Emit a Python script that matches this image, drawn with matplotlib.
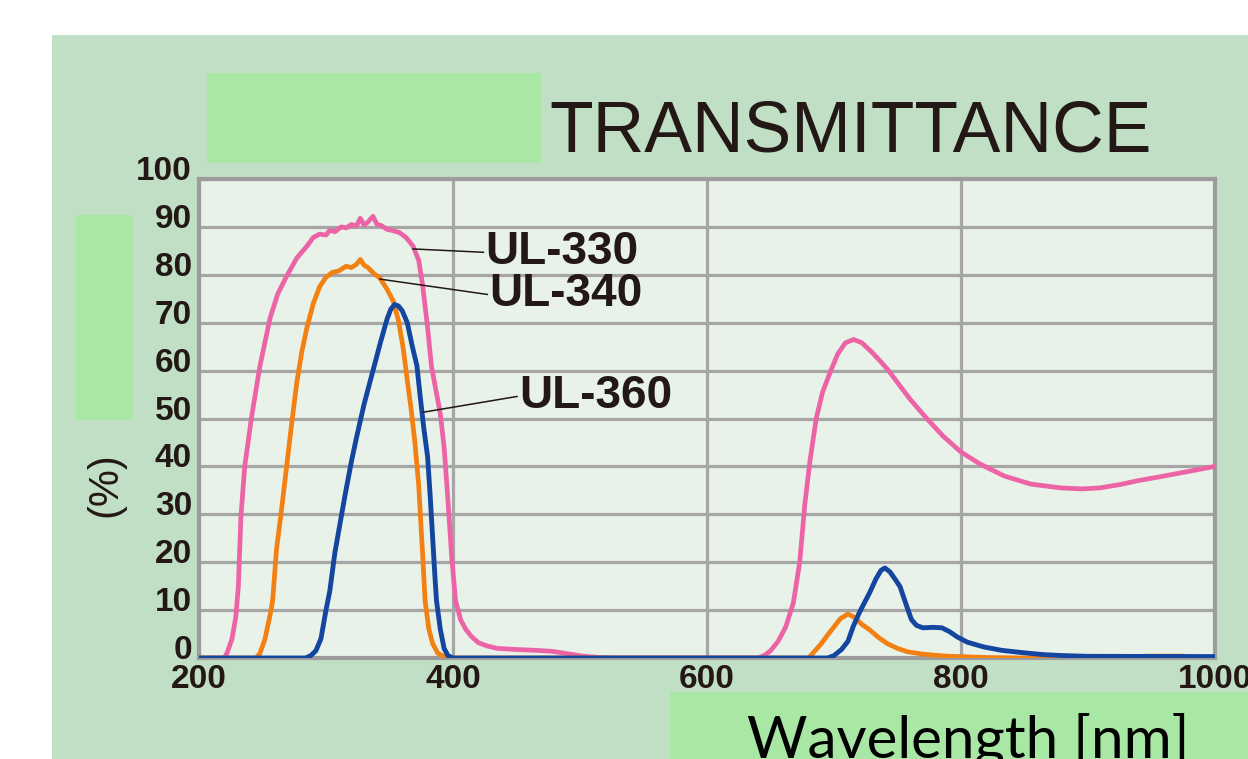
import matplotlib
matplotlib.use("Agg")
import matplotlib.pyplot as plt
from matplotlib.patches import Rectangle
from matplotlib.transforms import ScaledTranslation

# ---------------- data ----------------
ul330_wl = [200, 220, 222, 226, 229, 231, 233, 236, 241.5, 248, 256, 262, 269, 277, 285, 290,
            295, 300, 303, 307, 312, 316, 320, 324, 327, 330, 333, 337, 340, 344, 348, 353,
            358, 363, 368.5, 373, 376, 380, 383, 386, 390, 393, 396, 399, 402, 406, 410,
            414.5, 420, 427, 435, 448, 465, 478, 490, 502, 515, 530, 640, 645, 650, 656,
            662, 668, 673, 677, 681, 686, 691, 697.5, 703, 709, 715.5, 722, 730, 737, 743,
            750, 760, 773, 786, 800, 815, 834, 855, 879, 895, 909, 925, 939, 960, 980, 1000]
ul330_t = [0, 0, 1, 4, 8.6, 15, 29.5, 40, 50.5, 61, 71, 76, 79.7, 83.5, 86, 87.8,
           88.5, 88.3, 89.3, 89.0, 90.0, 89.8, 90.5, 90.2, 91.8, 90.4, 91.0, 92.2, 90.6, 90.2, 89.5, 89.2,
           88.8, 87.8, 86, 83, 78, 69, 61, 56.7, 51, 44, 33, 21, 12, 8, 6,
           4.5, 3.2, 2.5, 2.0, 1.8, 1.6, 1.4, 0.9, 0.4, 0.1, 0, 0, 0.5, 1.5, 3.5,
           6.5, 11.5, 20, 32, 41, 50, 55.5, 60, 63.5, 65.8, 66.5, 65.8, 63.8, 61.8, 60,
           57.5, 54, 50, 46.3, 43, 40.5, 38, 36.3, 35.5, 35.3, 35.5, 36.2, 37, 38, 39, 40]

ul340_wl = [200, 245, 248, 252, 256, 258, 261, 265, 269, 273, 277, 281, 285, 290, 295, 300,
            305, 310, 316, 320, 324, 327, 330, 333, 338, 342.5, 348, 353, 357, 360.6, 364,
            367, 370, 373, 376, 378, 381, 384, 388, 393, 396, 680, 685, 690, 695, 700, 705,
            711, 716, 722, 728, 735, 742, 750, 758, 770, 788, 820, 850, 940, 945, 975, 980, 1000]
ul340_t = [0, 0, 1, 4, 9, 12, 22.6, 31, 40, 49, 57.5, 64, 69, 74, 77.5, 79.5,
           80.5, 80.8, 81.8, 81.5, 82.2, 83.2, 82.0, 81.5, 80.2, 79.3, 77, 74.5, 70.5, 65, 58,
           52, 45, 36, 22, 12, 6, 3, 1, 0.3, 0, 0, 1.5, 3, 4.8, 6.5, 8.2,
           9.2, 8.5, 7, 5.9, 4.3, 3, 2, 1.3, 0.8, 0.4, 0.1, 0, 0, 0.4, 0.4, 0, 0]

ul360_wl = [200, 284, 288, 292, 296, 300, 303, 307, 311, 315, 320, 324, 330, 337, 343, 348,
            351, 354, 357, 360, 364, 368, 371.6, 374, 377, 380, 382, 384, 386, 387, 390, 393,
            396, 400, 695, 700, 706, 711, 715, 720, 728, 733, 737, 740, 744, 748, 752, 757,
            761, 765, 770, 778, 785, 791, 797, 805, 818, 832, 849, 865, 880, 900, 1000]
ul360_t = [0, 0, 0.5, 1.5, 4, 10, 14, 22, 28, 34, 41, 46, 53, 60, 66, 70.7,
           72.8, 73.8, 73.5, 72.5, 70, 65, 61, 55, 48, 42, 34, 25, 16, 12, 6, 2,
           0.5, 0, 0, 0.5, 1.8, 3.5, 6.5, 9.5, 13.6, 16.5, 18.3, 18.8, 18, 16.5, 14.9, 11,
           8, 6.8, 6.3, 6.4, 6.3, 5.5, 4.4, 3.3, 2.3, 1.6, 1.1, 0.7, 0.5, 0.35, 0.3]

x_ticks = [200, 400, 600, 800, 1000]
y_ticks = [0, 10, 20, 30, 40, 50, 60, 70, 80, 90, 100]
series_names = ["UL-330", "UL-340", "UL-360"]
title_text = "TRANSMITTANCE"
y_label = "(%)"
x_label = "Wavelength [nm]"

# ---------------- styling ----------------
INK = "#231815"
PINK = "#ec64a6"
ORANGE = "#f28012"
BLUE = "#1446a0"
GRID = "#a6a6a6"
BG_GREEN = "#c0dfc4"
PATCH = "#a8e8a4"
FACE = "#e8f2e8"

fig = plt.figure(figsize=(12.48, 7.59), dpi=100, facecolor="white")
W, H = 1248.0, 759.0

def frect(x0, y0, x1, y1, color, z):
    r = Rectangle((x0 / W, 1 - y1 / H), (x1 - x0) / W, (y1 - y0) / H,
                  transform=fig.transFigure, facecolor=color, edgecolor="none", zorder=z)
    fig.add_artist(r)

frect(52, 35, 1260, 770, BG_GREEN, -10)

ax = fig.add_axes([199 / W, 1 - 658 / H, (1215 - 199) / W, (658 - 179) / H])
ax.set_facecolor(FACE)
ax.set_xlim(200, 1000)
ax.set_ylim(0, 100)
ax.set_xticks(x_ticks)
ax.set_yticks(y_ticks)
ax.tick_params(length=0, labelsize=24, labelcolor=INK)
ax.tick_params(axis="y", pad=5)
ax.tick_params(axis="x", pad=4.5)
for lab in ax.get_xticklabels() + ax.get_yticklabels():
    lab.set_fontfamily("Liberation Sans")
    lab.set_fontweight("bold")
shift_up = ScaledTranslation(0, 11 / 100, fig.dpi_scale_trans)
for lab in ax.get_yticklabels():
    lab.set_transform(lab.get_transform() + shift_up)
ax.grid(True, color=GRID, linewidth=2.3, zorder=0)
ax.set_axisbelow(True)
for s in ax.spines.values():
    s.set_color("#9c9c9c")
    s.set_linewidth(3)

ax.plot(ul330_wl, ul330_t, color=PINK, lw=3.4, zorder=3, solid_joinstyle="round")
ax.plot(ul340_wl, ul340_t, color=ORANGE, lw=3.4, zorder=4, solid_joinstyle="round")
ax.plot(ul360_wl, ul360_t, color=BLUE, lw=3.5, zorder=5, solid_joinstyle="round")

# leader lines and labels
labels_pos = [((368.5, 85.4), (424, 84.7)),
              ((342.5, 79.1), (427, 75.9)),
              ((376.4, 51.3), (450.4, 54.6))]
for name, (p0, p1) in zip(series_names, labels_pos):
    ax.plot([p0[0], p1[0]], [p0[1], p1[1]], color=INK, lw=1.1, zorder=6)
    ax.text(p1[0] + 1.5, p1[1], name, fontsize=33, fontweight="bold", family="Liberation Sans",
            color=INK, ha="left", va="center", zorder=7)

# title
fig.text(549 / W, 1 - 152 / H, title_text, fontsize=51.5, family="Liberation Sans",
         color=INK, ha="left", va="baseline")

# y label
fig.text(105 / W, 1 - 485 / H, y_label, fontsize=30, family="Liberation Sans",
         color=INK, rotation=90, ha="center", va="center")

# cover patches
frect(207, 73, 541, 163, PATCH, 20)
frect(76, 215, 133, 420, PATCH, 20)
frect(670, 692, 1260, 770, PATCH, 20)

fig.text(968 / W, 1 - 757 / H, x_label, fontsize=42, family="Lato",
         color="black", ha="center", va="baseline", zorder=21)

fig.savefig("out.png", dpi=100, facecolor="white")
